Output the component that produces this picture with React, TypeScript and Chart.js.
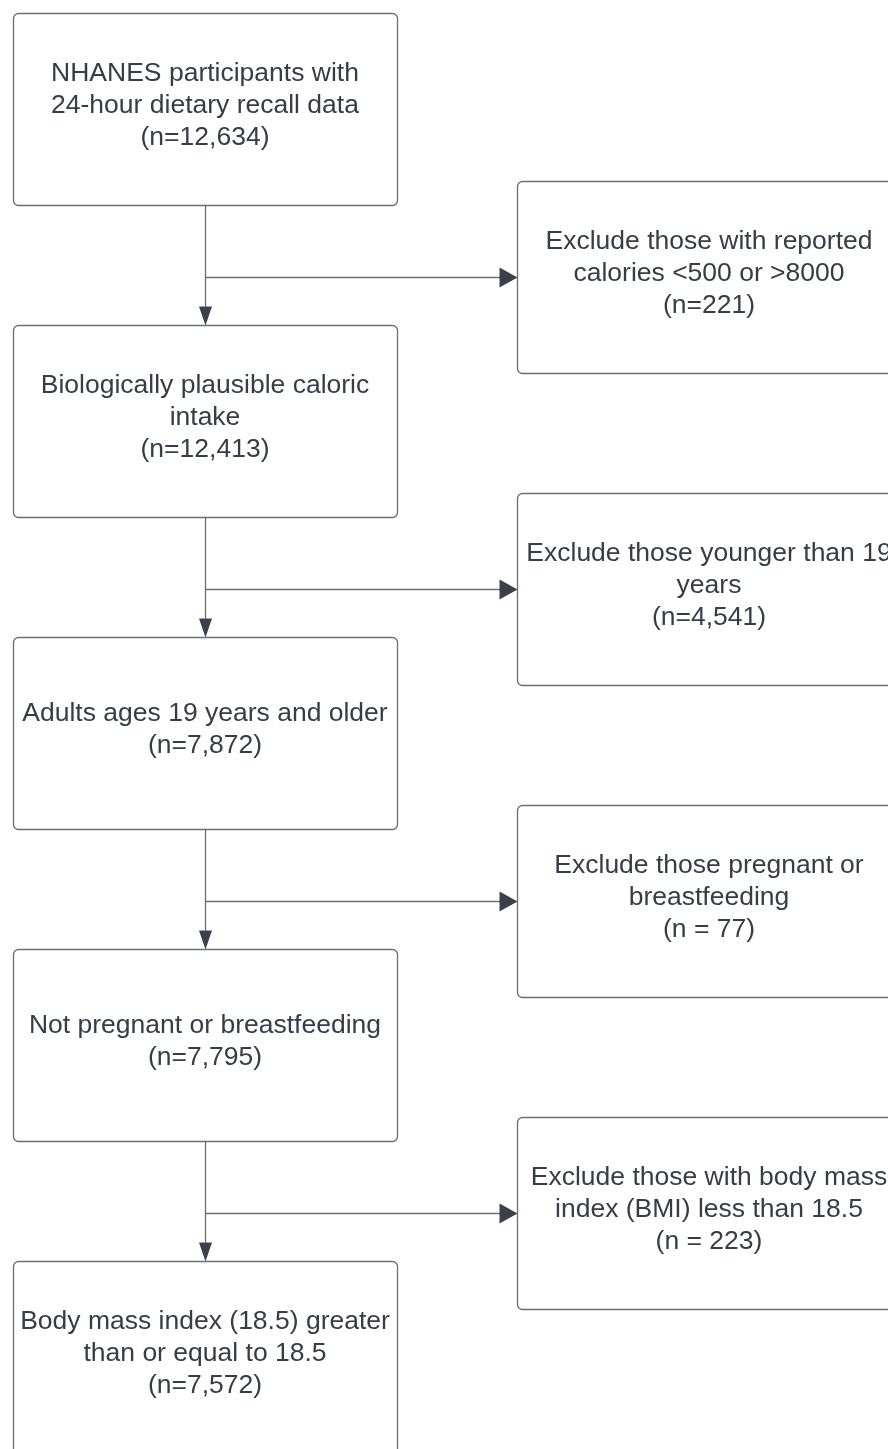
import React, { useEffect, useRef } from "react";
import { Chart, registerables } from "chart.js";

Chart.register(...registerables);

// ---- Data ----
const stepLabels = [
  "NHANES participants with\n24-hour dietary recall data",
  "Biologically plausible caloric\nintake",
  "Adults ages 19 years and older",
  "Not pregnant or breastfeeding",
  "Body mass index (18.5) greater\nthan or equal to 18.5",
];
const stepCounts = ["(n=12,634)", "(n=12,413)", "(n=7,872)", "(n=7,795)", "(n=7,572)"];

const exclusionLabels = [
  "Exclude those with reported\ncalories <500 or >8000",
  "Exclude those younger than 19\nyears",
  "Exclude those pregnant or\nbreastfeeding",
  "Exclude those with body mass\nindex (BMI) less than 18.5",
];
const exclusionCounts = ["(n=221)", "(n=4,541)", "(n = 77)", "(n = 223)"];

// ---- Layout (not data) ----
const W = 888;
const H = 1449;
const BOX_W = 384;
const BOX_H = 192;
const STEP = 312;
const MAIN_CX = 205;
const MAIN_TOP = 13;
const EXCL_CX = 709;
const EXCL_TOP = 181;

const TEXT_COLOR = "#363d47";
const BORDER_COLOR = "#6b7078";
const LINE_COLOR = "#6b7078";
const ARROW_COLOR = "#3a414a";
const FONT = "26.5px 'Liberation Sans', Arial, sans-serif";

function drawBox(ctx: CanvasRenderingContext2D, x: number, y: number, w: number, h: number) {
  ctx.save();
  ctx.beginPath();
  (ctx as any).roundRect(x + 0.5, y + 0.5, w, h, 5);
  ctx.fillStyle = "#ffffff";
  ctx.fill();
  ctx.strokeStyle = BORDER_COLOR;
  ctx.lineWidth = 1.3;
  ctx.stroke();
  ctx.restore();
}

function drawText(ctx: CanvasRenderingContext2D, cx: number, cy: number, label: string, count: string) {
  const lines = label.split("\n").concat([count]);
  const n = lines.length;
  ctx.save();
  ctx.fillStyle = TEXT_COLOR;
  ctx.font = FONT;
  ctx.textAlign = "center";
  ctx.textBaseline = "alphabetic";
  lines.forEach((line, i) => {
    const capCenter = cy - 6 - (n - 1) * 16 + i * 32;
    ctx.fillText(line, cx, capCenter + 9.5);
  });
  ctx.restore();
}

function arrowDown(ctx: CanvasRenderingContext2D, x: number, tipY: number) {
  ctx.save();
  ctx.fillStyle = ARROW_COLOR;
  ctx.beginPath();
  ctx.moveTo(x, tipY);
  ctx.lineTo(x - 6.5, tipY - 19);
  ctx.lineTo(x + 6.5, tipY - 19);
  ctx.closePath();
  ctx.fill();
  ctx.restore();
}

function arrowRight(ctx: CanvasRenderingContext2D, tipX: number, y: number) {
  ctx.save();
  ctx.fillStyle = ARROW_COLOR;
  ctx.beginPath();
  ctx.moveTo(tipX, y);
  ctx.lineTo(tipX - 18, y - 10);
  ctx.lineTo(tipX - 18, y + 10);
  ctx.closePath();
  ctx.fill();
  ctx.restore();
}

const flowPlugin = {
  id: "flowchart",
  afterDatasetsDraw(chart: any) {
    const ctx: CanvasRenderingContext2D = chart.ctx;
    const xs = chart.scales.x;
    const ys = chart.scales.y;
    const mainMeta = chart.getDatasetMeta(0);
    const exclMeta = chart.getDatasetMeta(1);
    const pw = (v: number) => Math.abs(xs.getPixelForValue(v) - xs.getPixelForValue(0));
    const ph = (v: number) => Math.abs(ys.getPixelForValue(v) - ys.getPixelForValue(0));
    const bw = pw(BOX_W);
    const bh = ph(BOX_H);

    // connectors
    ctx.save();
    ctx.strokeStyle = LINE_COLOR;
    ctx.lineWidth = 1.3;
    for (let i = 0; i < mainMeta.data.length - 1; i++) {
      const a = mainMeta.data[i];
      const b = mainMeta.data[i + 1];
      const x = Math.round(a.x) + 0.5;
      const y0 = a.y + bh / 2;
      const y1 = b.y - bh / 2;
      ctx.beginPath();
      ctx.moveTo(x, y0);
      ctx.lineTo(x, y1 - 15);
      ctx.stroke();
      const e = exclMeta.data[i];
      if (e) {
        const ey = Math.round(e.y) + 0.5;
        const ex = e.x - bw / 2;
        ctx.beginPath();
        ctx.moveTo(x, ey);
        ctx.lineTo(ex - 14, ey);
        ctx.stroke();
        arrowRight(ctx, ex + 0.5, ey);
      }
      arrowDown(ctx, x, y1 + 0.5);
    }
    ctx.restore();

    mainMeta.data.forEach((p: any, i: number) => {
      drawBox(ctx, p.x - bw / 2, p.y - bh / 2, bw, bh);
      drawText(ctx, p.x, p.y, stepLabels[i], stepCounts[i]);
    });
    exclMeta.data.forEach((p: any, i: number) => {
      drawBox(ctx, p.x - bw / 2, p.y - bh / 2, bw, bh);
      drawText(ctx, p.x, p.y, exclusionLabels[i], exclusionCounts[i]);
    });
  },
};

export default function App() {
  const ref = useRef<HTMLCanvasElement | null>(null);
  useEffect(() => {
    if (!ref.current) return;
    const chart = new Chart(ref.current, {
      type: "scatter",
      data: {
        datasets: [
          {
            label: "steps",
            data: stepLabels.map((_, i) => ({ x: MAIN_CX, y: MAIN_TOP + BOX_H / 2 + i * STEP })),
            pointRadius: 0,
            clip: false as any,
          },
          {
            label: "exclusions",
            data: exclusionLabels.map((_, i) => ({ x: EXCL_CX, y: EXCL_TOP + BOX_H / 2 + i * STEP })),
            pointRadius: 0,
            clip: false as any,
          },
        ],
      },
      options: {
        animation: false,
        responsive: false,
        maintainAspectRatio: false,
        layout: { padding: 0 },
        plugins: { legend: { display: false }, tooltip: { enabled: false }, title: { display: false } },
        events: [],
        scales: {
          x: { type: "linear", min: 0, max: W, display: false },
          y: { type: "linear", min: 0, max: H, reverse: true, display: false },
        },
      },
      plugins: [flowPlugin],
    });
    return () => chart.destroy();
  }, []);
  return (
    <div style={{ position: "absolute", left: 0, top: 0, width: W, height: H, background: "#fff" }}>
      <canvas ref={ref} width={W} height={H} style={{ display: "block", width: W, height: H }} />
    </div>
  );
}
